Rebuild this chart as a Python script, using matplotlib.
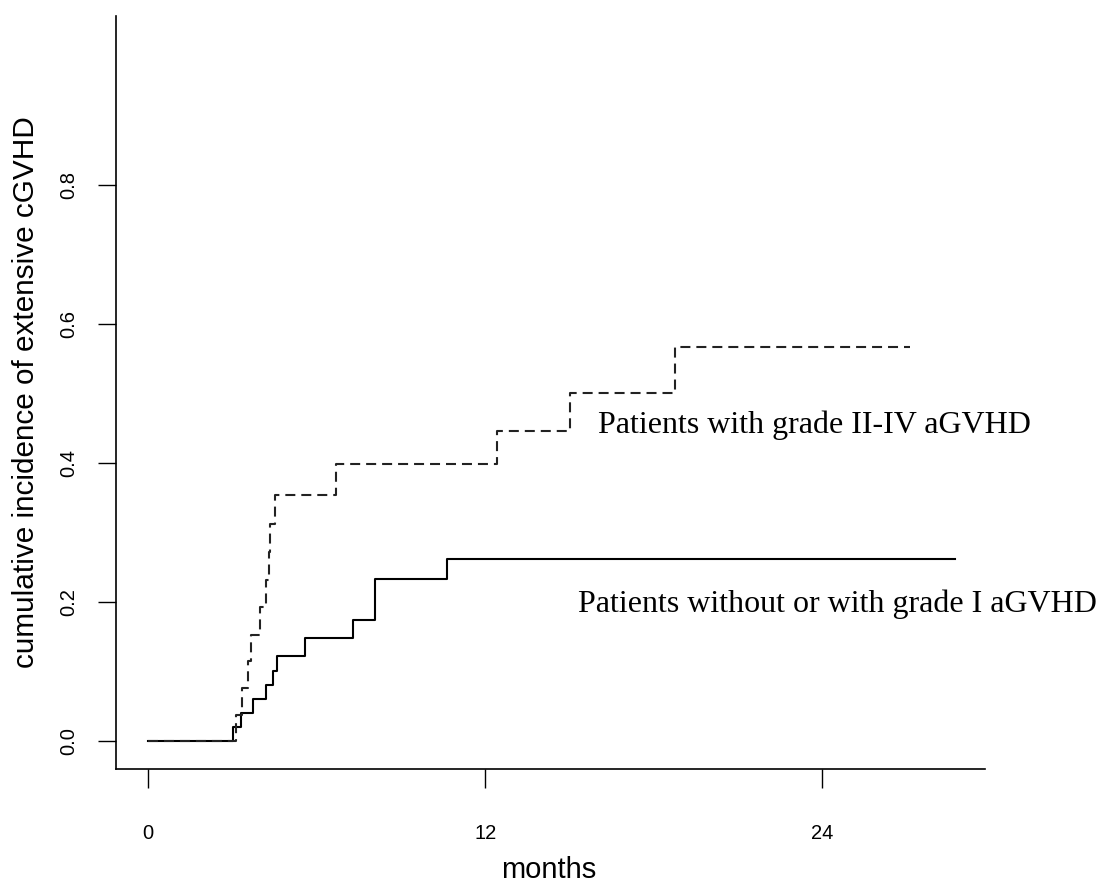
import matplotlib
matplotlib.use("Agg")
import matplotlib.pyplot as plt
from matplotlib import font_manager

# --- data (months, cumulative incidence) ---
solid_t = [0, 3.01, 3.30, 3.72, 4.20, 4.43, 4.58, 5.57, 7.29, 8.06, 10.64, 28.74]
solid_v = [0, 0.020, 0.040, 0.060, 0.081, 0.101, 0.123, 0.149, 0.175, 0.233, 0.262, 0.262]

dash_t = [0, 3.13, 3.35, 3.55, 3.65, 3.97, 4.20, 4.29, 4.34, 4.52, 6.70, 12.42, 15.03, 18.77, 27.14]
dash_v = [0, 0.038, 0.077, 0.116, 0.153, 0.193, 0.232, 0.272, 0.313, 0.354, 0.398, 0.446, 0.501, 0.567, 0.567]

x_ticks = [0, 12, 24]
y_ticks = [0.0, 0.2, 0.4, 0.6, 0.8]
y_tick_labels = ["0.0", "0.2", "0.4", "0.6", "0.8"]

label_dash = "Patients with grade II-IV aGVHD"
label_solid = "Patients without or with grade I aGVHD"

plt.rcParams['lines.scale_dashes'] = False

installed = {f.name for f in font_manager.fontManager.ttflist}
narrow = ['Liberation Sans Narrow'] if 'Liberation Sans Narrow' in installed else []
tick_family = narrow + ['Liberation Sans', 'DejaVu Sans']
tick_size = 17.5 if narrow else 14.5

W, H = 1104, 884
fig = plt.figure(figsize=(W / 100, H / 100), dpi=100)
ax = fig.add_axes([116 / W, 1 - 769 / H, (985 - 116) / W, (769 - 16) / H])

ax.step(solid_t, solid_v, where='post', color='black', lw=1.5)
ax.step(dash_t, dash_v, where='post', color='#222222', lw=1.5, dashes=(7.2, 4.3))

ax.set_xlim(-1.146, 29.8)
ax.set_ylim(-0.04, 1.043)

for s in ['top', 'right']:
    ax.spines[s].set_visible(False)
for s in ['left', 'bottom']:
    ax.spines[s].set_linewidth(1.2)

sans = ['Liberation Sans', 'DejaVu Sans']
ax.set_xticks(x_ticks)
ax.set_xticklabels([str(t) for t in x_ticks], family=tick_family, fontsize=tick_size)
ax.set_yticks(y_ticks)
ax.set_yticklabels(y_tick_labels, family=tick_family, fontsize=tick_size, rotation=90, va='center')
ax.tick_params(axis='x', direction='out', length=13.5, width=1.0, pad=26)
ax.tick_params(axis='y', direction='out', length=13, width=1.0, pad=14)

fig.text(549 / W, 1 - 870 / H, "months", family=sans, fontsize=21, ha='center', va='center')
fig.text(26 / W, 1 - 392 / H, "cumulative incidence of extensive cGVHD", family=sans,
         fontsize=21.4, rotation=90, ha='center', va='center')

serif = ['Liberation Serif', 'DejaVu Serif']
ax.text(16.03, 0.443, label_dash, family=serif, fontsize=23, ha='left', va='baseline')
ax.text(15.31, 0.186, label_solid, family=serif, fontsize=23, ha='left', va='baseline')

fig.savefig("out.png", dpi=100)
